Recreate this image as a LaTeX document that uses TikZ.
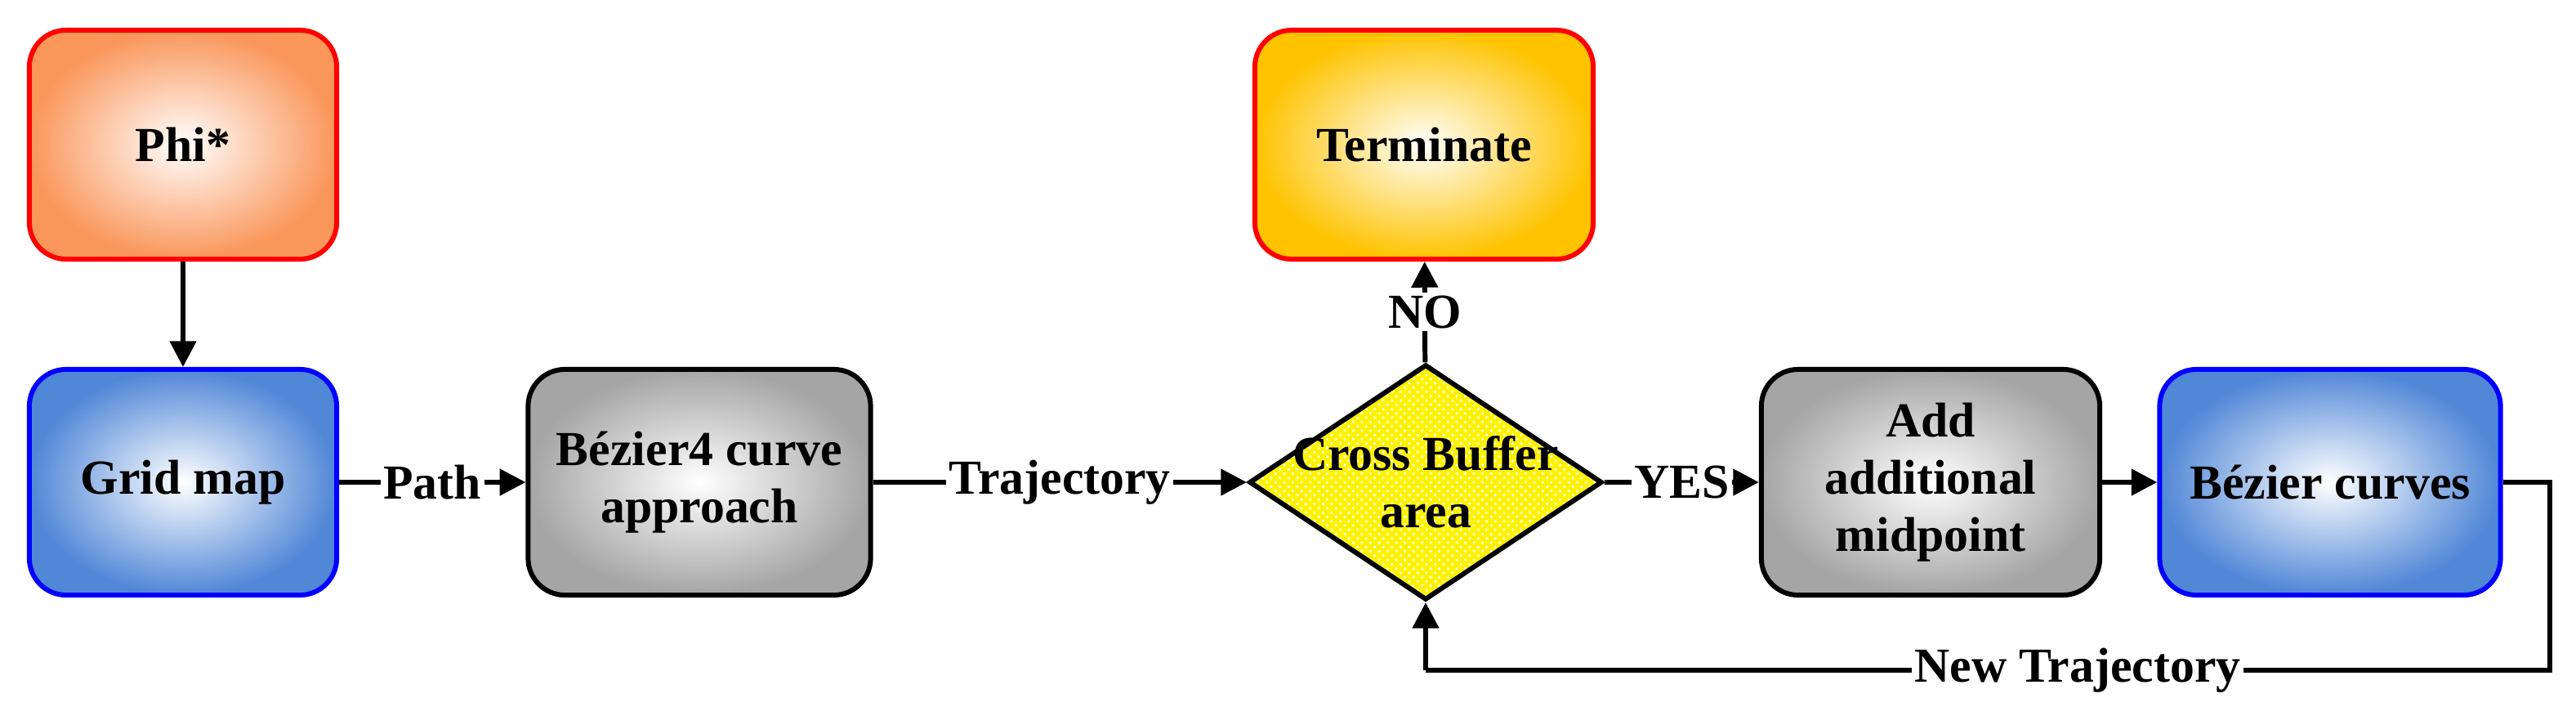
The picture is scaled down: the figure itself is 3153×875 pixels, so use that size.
\documentclass[tikz,border=0pt]{standalone}
\usepackage{fontspec}
\setmainfont{Liberation Serif}
\usetikzlibrary{shapes.geometric,patterns,arrows.meta}
\definecolor{org}{RGB}{250,150,90}
\definecolor{blu}{RGB}{80,135,215}
\definecolor{gry}{RGB}{165,165,165}
\definecolor{ylw}{RGB}{255,195,0}
\tikzset{
 box/.style={draw, line width=1.7pt, rounded corners=0.45cm, align=center, font=\fontsize{17}{20}\selectfont\bfseries, inner sep=2pt},
 red box/.style={box, draw=red, shading=radial, inner color=white, outer color=org, minimum width=3.76cm, minimum height=2.8cm},
 blue box/.style={box, draw=blue, shading=radial, inner color=white, outer color=blu, minimum width=3.76cm, minimum height=2.76cm},
 gray box/.style={box, draw=black, shading=radial, inner color=white, outer color=gry, minimum width=4.15cm, minimum height=2.76cm},
 arr/.style={line width=1.7pt, -{Triangle[length=9pt,width=9pt]}},
 ln/.style={line width=1.7pt},
 lab/.style={fill=white, inner sep=1pt, font=\fontsize{17}{20}\selectfont\bfseries}
}
\begin{document}
\begin{tikzpicture}[x=0.01cm,y=-0.01cm]
\useasboundingbox (0,0) rectangle (3153,875);
\node[red box] (phi) at (224,177) {Phi*};
\node[blue box] (grid) at (224,590) {Grid map};
\node[gray box, minimum width=4.19cm] (bez4) at (856,590) {Bézier4 curve\\approach};
\node[red box, outer color=ylw, inner color=white, minimum width=4.14cm] (term) at (1743,177) {Terminate};
\node[diamond, shape aspect=1.5, draw, line width=1.7pt, preaction={fill=yellow}, pattern=crosshatch dots, pattern color=white, minimum width=4.2cm, minimum height=2.72cm, inner xsep=-6pt, inner ysep=-2pt, align=center, font=\fontsize{17}{20}\selectfont\bfseries] (dia) at (1745,590) {Cross Buffer\\area};
\node[gray box, minimum width=4.14cm] (add) at (2363,590) {Add\\additional\\midpoint};
\node[blue box, minimum width=4.17cm] (bez) at (2852,590) {Bézier curves};
\coordinate (c1) at (3121,590);
\coordinate (c2) at (3121,820);
\coordinate (c3) at (1745,820);
\draw[arr] (phi) -- (grid);
\draw[arr] (grid) -- node[lab] {Path} (bez4);
\draw[arr] (bez4) -- node[lab] {Trajectory} (dia);
\draw[arr] (dia) -- node[lab] {YES} (add);
\draw[arr] (dia) -- node[lab] {NO} (term);
\draw[arr] (add) -- (bez);
\draw[ln] (bez.east) -- (c1) -- (c2) -- node[lab, pos=0.42] {New Trajectory} (c3);
\draw[arr] (c3) -- (dia.south);
\end{tikzpicture}
\end{document}
